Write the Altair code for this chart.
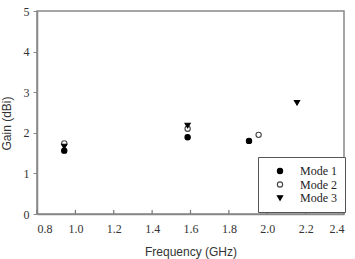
import altair as alt
import pandas as pd

modes = ["Mode 1", "Mode 2", "Mode 3"]
freq_m1 = [0.942, 1.585, 1.905]
gain_m1 = [1.56, 1.89, 1.80]
freq_m2 = [0.942, 1.585, 1.955]
gain_m2 = [1.74, 2.10, 1.95]
freq_m3 = [0.942, 1.585, 2.155]
gain_m3 = [1.66, 2.18, 2.74]
x_ticks = [0.8, 1.0, 1.2, 1.4, 1.6, 1.8, 2.0, 2.2, 2.4]

rows = []
for m, fs, gs in zip(modes, [freq_m1, freq_m2, freq_m3], [gain_m1, gain_m2, gain_m3]):
    for f, g in zip(fs, gs):
        rows.append({"Mode": m, "Frequency": f, "Gain": g})
df = pd.DataFrame(rows)
ticks_df = pd.DataFrame({"Frequency": x_ticks})

W, H = 307, 203
SERIF = "Liberation Serif"
SANS = "Liberation Sans"
xscale = alt.Scale(domain=[0.8, 2.4], nice=False, zero=False)
yscale = alt.Scale(domain=[0, 5], nice=False)
x_axis = alt.Axis(values=x_ticks, format=".1f", title="Frequency (GHz)",
                  tickSize=0, labelPadding=9, titlePadding=12,
                  labelOverlap=False, labelFont=SERIF, titleFont=SANS,
                  grid=False)

points = alt.Chart(df).mark_point(size=28, strokeWidth=1.1, opacity=1).encode(
    x=alt.X("Frequency:Q", scale=xscale, axis=x_axis),
    y=alt.Y("Gain:Q", scale=yscale,
            axis=alt.Axis(values=[0, 1, 2, 3, 4, 5], format="d", title="Gain (dBi)",
                          tickSize=4, labelPadding=4, titlePadding=10,
                          titleY=112,
                          labelFont=SERIF, titleFont=SANS,
                          grid=False)),
    shape=alt.Shape("Mode:N", scale=alt.Scale(domain=modes,
                    range=["circle", "circle", "triangle-down"]),
                    legend=alt.Legend(title=None)),
    fill=alt.Fill("Mode:N", scale=alt.Scale(domain=modes,
                  range=["black", "white", "black"]),
                  legend=alt.Legend(title=None)),
    stroke=alt.Stroke("Mode:N", scale=alt.Scale(domain=modes,
                      range=["black", "#444444", "black"]),
                      legend=alt.Legend(title=None)),
)

tick_rules = alt.Chart(ticks_df).mark_rule(color="#777777", strokeWidth=1.2).encode(
    x=alt.X("Frequency:Q", scale=xscale, axis=x_axis),
    y=alt.value(H - 4),
    y2=alt.value(H),
)

chart = alt.layer(points, tick_rules).properties(
    width=W, height=H,
    autosize=alt.AutoSizeParams(type="none"),
    padding={"left": 37, "top": 11, "right": 11, "bottom": 45},
).configure_view(
    stroke="#888888", strokeWidth=1.5
).configure_axis(
    domainColor="#888888", domainWidth=1.5, tickColor="#888888",
    labelFont=SERIF, labelFontSize=12, labelColor="#333333",
    titleFont=SANS, titleFontSize=12, titleFontWeight="normal",
    titleColor="#333333",
).configure_legend(
    orient="none", legendX=221, legendY=146,
    strokeColor="#555555", fillColor="white", padding=8,
    labelFont=SERIF, labelFontSize=12, labelColor="#222222",
    symbolSize=28, symbolOffset=8, labelOffset=14, rowPadding=1.5,
    symbolStrokeWidth=1.1,
)

chart.save("out.html", embed_options={"renderer": "svg", "actions": False})
